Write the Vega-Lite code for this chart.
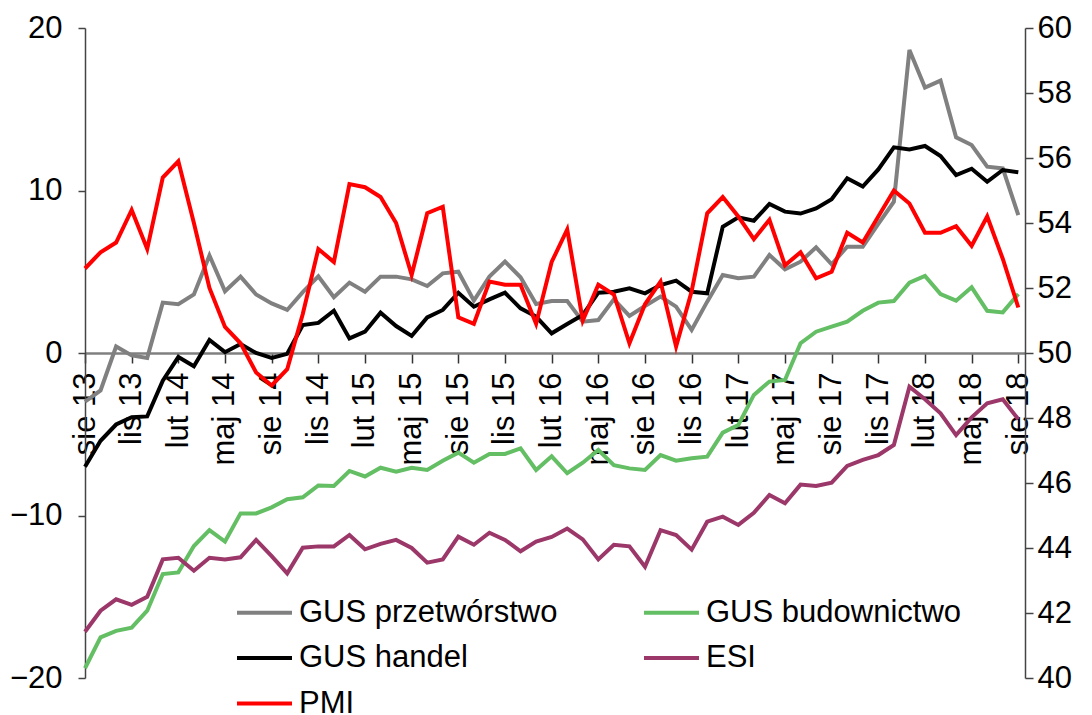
{
  "$schema": "https://vega.github.io/schema/vega-lite/v6.json",
  "width": 940,
  "height": 650,
  "autosize": {"type": "none"},
  "padding": {"left": 85, "top": 28, "right": 67, "bottom": 37},
  "background": "white",
  "config": {
    "view": {"stroke": null},
    "font": "Liberation Sans",
    "axis": {"grid": false, "title": null, "labelFont": "Liberation Sans", "labelFontSize": 31, "labelColor": "#000000"}
  },
  "data": {"values": [
    {"m":0,"GUS przetwórstwo":-3.0,"GUS budownictwo":-19.4,"GUS handel":-7.0,"ESI":-17.15,"PMI":52.6},
    {"m":1,"GUS przetwórstwo":-2.3,"GUS budownictwo":-17.5,"GUS handel":-5.4,"ESI":-15.86,"PMI":53.1},
    {"m":2,"GUS przetwórstwo":0.4,"GUS budownictwo":-17.1,"GUS handel":-4.4,"ESI":-15.16,"PMI":53.4},
    {"m":3,"GUS przetwórstwo":-0.15,"GUS budownictwo":-16.9,"GUS handel":-3.95,"ESI":-15.5,"PMI":54.4},
    {"m":4,"GUS przetwórstwo":-0.3,"GUS budownictwo":-15.86,"GUS handel":-3.9,"ESI":-15.0,"PMI":53.2},
    {"m":5,"GUS przetwórstwo":3.1,"GUS budownictwo":-13.6,"GUS handel":-1.7,"ESI":-12.7,"PMI":55.4},
    {"m":6,"GUS przetwórstwo":3.0,"GUS budownictwo":-13.5,"GUS handel":-0.25,"ESI":-12.6,"PMI":55.9},
    {"m":7,"GUS przetwórstwo":3.6,"GUS budownictwo":-11.88,"GUS handel":-0.82,"ESI":-13.4,"PMI":54.0},
    {"m":8,"GUS przetwórstwo":6.0,"GUS budownictwo":-10.9,"GUS handel":0.8,"ESI":-12.6,"PMI":52.0},
    {"m":9,"GUS przetwórstwo":3.8,"GUS budownictwo":-11.6,"GUS handel":0.05,"ESI":-12.7,"PMI":50.8},
    {"m":10,"GUS przetwórstwo":4.7,"GUS budownictwo":-9.87,"GUS handel":0.55,"ESI":-12.57,"PMI":50.3},
    {"m":11,"GUS przetwórstwo":3.6,"GUS budownictwo":-9.87,"GUS handel":0.0,"ESI":-11.5,"PMI":49.4},
    {"m":12,"GUS przetwórstwo":3.05,"GUS budownictwo":-9.5,"GUS handel":-0.3,"ESI":-12.5,"PMI":49.0},
    {"m":13,"GUS przetwórstwo":2.65,"GUS budownictwo":-9.0,"GUS handel":-0.05,"ESI":-13.56,"PMI":49.5},
    {"m":14,"GUS przetwórstwo":3.75,"GUS budownictwo":-8.88,"GUS handel":1.72,"ESI":-11.98,"PMI":51.2},
    {"m":15,"GUS przetwórstwo":4.72,"GUS budownictwo":-8.15,"GUS handel":1.85,"ESI":-11.9,"PMI":53.2},
    {"m":16,"GUS przetwórstwo":3.43,"GUS budownictwo":-8.18,"GUS handel":2.6,"ESI":-11.9,"PMI":52.8},
    {"m":17,"GUS przetwórstwo":4.33,"GUS budownictwo":-7.26,"GUS handel":0.9,"ESI":-11.2,"PMI":55.2},
    {"m":18,"GUS przetwórstwo":3.77,"GUS budownictwo":-7.6,"GUS handel":1.31,"ESI":-12.08,"PMI":55.1},
    {"m":19,"GUS przetwórstwo":4.7,"GUS budownictwo":-7.06,"GUS handel":2.48,"ESI":-11.75,"PMI":54.8},
    {"m":20,"GUS przetwórstwo":4.7,"GUS budownictwo":-7.3,"GUS handel":1.66,"ESI":-11.5,"PMI":54.0},
    {"m":21,"GUS przetwórstwo":4.53,"GUS budownictwo":-7.06,"GUS handel":1.05,"ESI":-12.0,"PMI":52.4},
    {"m":22,"GUS przetwórstwo":4.12,"GUS budownictwo":-7.2,"GUS handel":2.19,"ESI":-12.9,"PMI":54.3},
    {"m":23,"GUS przetwórstwo":4.9,"GUS budownictwo":-6.63,"GUS handel":2.65,"ESI":-12.7,"PMI":54.5},
    {"m":24,"GUS przetwórstwo":5.0,"GUS budownictwo":-6.13,"GUS handel":3.71,"ESI":-11.3,"PMI":51.1},
    {"m":25,"GUS przetwórstwo":3.22,"GUS budownictwo":-6.75,"GUS handel":2.85,"ESI":-11.8,"PMI":50.9},
    {"m":26,"GUS przetwórstwo":4.7,"GUS budownictwo":-6.21,"GUS handel":3.3,"ESI":-11.06,"PMI":52.2},
    {"m":27,"GUS przetwórstwo":5.62,"GUS budownictwo":-6.21,"GUS handel":3.71,"ESI":-11.5,"PMI":52.1},
    {"m":28,"GUS przetwórstwo":4.66,"GUS budownictwo":-5.87,"GUS handel":2.75,"ESI":-12.2,"PMI":52.1},
    {"m":29,"GUS przetwórstwo":3.02,"GUS budownictwo":-7.2,"GUS handel":2.24,"ESI":-11.6,"PMI":50.9},
    {"m":30,"GUS przetwórstwo":3.2,"GUS budownictwo":-6.36,"GUS handel":1.21,"ESI":-11.32,"PMI":52.8},
    {"m":31,"GUS przetwórstwo":3.2,"GUS budownictwo":-7.4,"GUS handel":1.78,"ESI":-10.8,"PMI":53.8},
    {"m":32,"GUS przetwórstwo":1.93,"GUS budownictwo":-6.75,"GUS handel":2.34,"ESI":-11.47,"PMI":51.0},
    {"m":33,"GUS przetwórstwo":2.03,"GUS budownictwo":-5.97,"GUS handel":3.71,"ESI":-12.7,"PMI":52.1},
    {"m":34,"GUS przetwórstwo":3.3,"GUS budownictwo":-6.9,"GUS handel":3.77,"ESI":-11.8,"PMI":51.8},
    {"m":35,"GUS przetwórstwo":2.28,"GUS budownictwo":-7.1,"GUS handel":3.98,"ESI":-11.9,"PMI":50.3},
    {"m":36,"GUS przetwórstwo":2.89,"GUS budownictwo":-7.2,"GUS handel":3.67,"ESI":-13.15,"PMI":51.5},
    {"m":37,"GUS przetwórstwo":3.47,"GUS budownictwo":-6.28,"GUS handel":4.18,"ESI":-10.9,"PMI":52.2},
    {"m":38,"GUS przetwórstwo":2.85,"GUS budownictwo":-6.63,"GUS handel":4.45,"ESI":-11.2,"PMI":50.2},
    {"m":39,"GUS przetwórstwo":1.42,"GUS budownictwo":-6.48,"GUS handel":3.77,"ESI":-12.1,"PMI":51.9},
    {"m":40,"GUS przetwórstwo":3.16,"GUS budownictwo":-6.38,"GUS handel":3.67,"ESI":-10.38,"PMI":54.3},
    {"m":41,"GUS przetwórstwo":4.8,"GUS budownictwo":-4.9,"GUS handel":7.77,"ESI":-10.07,"PMI":54.8},
    {"m":42,"GUS przetwórstwo":4.6,"GUS budownictwo":-4.43,"GUS handel":8.35,"ESI":-10.58,"PMI":54.2},
    {"m":43,"GUS przetwórstwo":4.7,"GUS budownictwo":-2.58,"GUS handel":8.14,"ESI":-9.83,"PMI":53.5},
    {"m":44,"GUS przetwórstwo":6.03,"GUS budownictwo":-1.76,"GUS handel":9.17,"ESI":-8.74,"PMI":54.1},
    {"m":45,"GUS przetwórstwo":5.15,"GUS budownictwo":-1.66,"GUS handel":8.7,"ESI":-9.25,"PMI":52.7},
    {"m":46,"GUS przetwórstwo":5.62,"GUS budownictwo":0.6,"GUS handel":8.58,"ESI":-8.1,"PMI":53.1},
    {"m":47,"GUS przetwórstwo":6.5,"GUS budownictwo":1.31,"GUS handel":8.9,"ESI":-8.18,"PMI":52.3},
    {"m":48,"GUS przetwórstwo":5.46,"GUS budownictwo":1.62,"GUS handel":9.46,"ESI":-7.98,"PMI":52.5},
    {"m":49,"GUS przetwórstwo":6.54,"GUS budownictwo":1.93,"GUS handel":10.75,"ESI":-6.95,"PMI":53.7},
    {"m":50,"GUS przetwórstwo":6.54,"GUS budownictwo":2.6,"GUS handel":10.24,"ESI":-6.58,"PMI":53.4},
    {"m":51,"GUS przetwórstwo":7.94,"GUS budownictwo":3.1,"GUS handel":11.3,"ESI":-6.28,"PMI":54.2},
    {"m":52,"GUS przetwórstwo":9.31,"GUS budownictwo":3.2,"GUS handel":12.66,"ESI":-5.66,"PMI":55.0},
    {"m":53,"GUS przetwórstwo":18.65,"GUS budownictwo":4.33,"GUS handel":12.53,"ESI":-2.07,"PMI":54.6},
    {"m":54,"GUS przetwórstwo":16.33,"GUS budownictwo":4.74,"GUS handel":12.74,"ESI":-2.85,"PMI":53.7},
    {"m":55,"GUS przetwórstwo":16.76,"GUS budownictwo":3.63,"GUS handel":12.12,"ESI":-3.71,"PMI":53.7},
    {"m":56,"GUS przetwórstwo":13.27,"GUS budownictwo":3.22,"GUS handel":10.95,"ESI":-5.05,"PMI":53.9},
    {"m":57,"GUS przetwórstwo":12.8,"GUS budownictwo":4.04,"GUS handel":11.34,"ESI":-3.96,"PMI":53.3},
    {"m":58,"GUS przetwórstwo":11.47,"GUS budownictwo":2.6,"GUS handel":10.54,"ESI":-3.1,"PMI":54.2},
    {"m":59,"GUS przetwórstwo":11.36,"GUS budownictwo":2.5,"GUS handel":11.26,"ESI":-2.85,"PMI":52.9},
    {"m":60,"GUS przetwórstwo":8.49,"GUS budownictwo":3.63,"GUS handel":11.12,"ESI":-4.08,"PMI":51.4}
  ]},
  "encoding": {
    "x": {
      "field": "m", "type": "quantitative",
      "scale": {"domain": [0, 60.43], "nice": false, "zero": false},
      "axis": {
        "orient": "bottom", "offset": -325,
        "values": [0,3,6,9,12,15,18,21,24,27,30,33,36,39,42,45,48,51,54,57,60],
        "labelExpr": "['sty','lut','mar','kwi','maj','cze','lip','sie','wrz','paź','lis','gru'][(datum.value+7)%12] + ' ' + (13 + floor((datum.value+7)/12))",
        "labelAngle": -90, "labelAlign": "right", "labelBaseline": "middle",
        "labelOverlap": false, "labelFlush": false, "labelBound": false,
        "tickSize": 10, "labelPadding": 9,
        "domainColor": "#808080", "domainWidth": 2.5,
        "tickColor": "#333333", "tickWidth": 1.5
      }
    },
    "color": {
      "field": "series", "type": "nominal",
      "scale": {
        "domain": ["GUS przetwórstwo", "GUS handel", "PMI", "GUS budownictwo", "ESI"],
        "range": ["#808080", "#000000", "#ff0000", "#63be64", "#9b3769"]
      },
      "legend": {
        "orient": "none", "legendX": 150, "legendY": 555,
        "columns": 2, "title": null,
        "symbolType": "stroke", "symbolSize": 3025, "symbolStrokeWidth": 4,
        "labelFont": "Liberation Sans", "labelFontSize": 31, "labelColor": "#000000",
        "labelLimit": 600, "labelOffset": 5, "columnPadding": 78, "rowPadding": 0.5
      }
    }
  },
  "layer": [
    {
      "transform": [{"fold": ["GUS przetwórstwo", "GUS budownictwo", "GUS handel", "ESI"], "as": ["series", "value"]}],
      "mark": {"type": "line", "strokeWidth": 4},
      "encoding": {
        "y": {
          "field": "value", "type": "quantitative",
          "scale": {"domain": [-20, 20], "nice": false, "zero": false},
          "axis": {
            "orient": "left", "values": [-20, -10, 0, 10, 20],
            "tickSize": 7, "labelPadding": 16,
            "domainColor": "#444444", "domainWidth": 1.5, "tickColor": "#444444", "tickWidth": 1.5
          }
        }
      }
    },
    {
      "transform": [{"fold": ["PMI"], "as": ["series", "value"]}],
      "mark": {"type": "line", "strokeWidth": 4},
      "encoding": {
        "y": {
          "field": "value", "type": "quantitative",
          "scale": {"domain": [40, 60], "nice": false, "zero": false},
          "axis": {
            "orient": "right", "values": [40, 42, 44, 46, 48, 50, 52, 54, 56, 58, 60],
            "tickSize": 8, "labelPadding": 4,
            "domainColor": "#444444", "domainWidth": 1.5, "tickColor": "#444444", "tickWidth": 1.5
          }
        }
      }
    }
  ],
  "resolve": {"scale": {"y": "independent"}}
}
